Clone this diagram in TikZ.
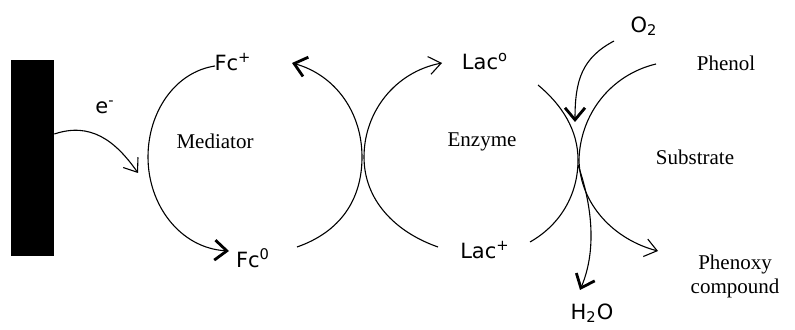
\documentclass[tikz,border=0pt]{standalone}
\usepackage{fontspec}
\setmainfont{Liberation Serif}
\setsansfont{DejaVu Sans}
\usetikzlibrary{arrows.meta}

\begin{document}
\begin{tikzpicture}[x=0.5pt,y=-0.5pt,
		species/.style={font=\sffamily\fontsize{10.5}{12}\selectfont,inner sep=1pt},
		caption/.style={font=\rmfamily\fontsize{10.5}{12}\selectfont,inner sep=1pt,align=center},
		cycle/.style={line width=0.55pt},
		thinhead/.style={-{Straight Barb[length=6pt,width=9pt]}},
		boldhead/.style={-{Straight Barb[length=6pt,width=10pt,line width=1.4pt]}}]
			
			\useasboundingbox (0,0) rectangle (795,330);
			% electrode
			\node[fill=black,minimum width=21.5pt,minimum height=98pt,inner sep=0pt] (elec) at (32.5,158) {};
			
			% species and captions
			\node[species] (emin) at (105,107) {e\textsuperscript{-}};
			\node[species] (fcplus) at (233,62) {Fc\textsuperscript{+}};
			\node[species] (fczero) at (253,258) {Fc\textsuperscript{0}};
			\node[species] (lacox) at (485,62) {Lac\textsuperscript{o}};
			\node[species] (lacred) at (485,250) {Lac\textsuperscript{+}};
			\node[species] (oxygen) at (644,26) {O\textsubscript{2}};
			\node[species] (water) at (592,313) {H\textsubscript{2}O};
			\node[caption] (mediator) at (215,141) {Mediator};
			\node[caption] (enzyme) at (482,142) {Enzyme};
			\node[caption] (substrate) at (695,157) {Substrate};
			\node[caption] (phenol) at (726,63) {Phenol};
			\node[caption] (phenoxy) at (735,276) {Phenoxy\\compound};
			
			% arc ends
			\coordinate (mA) at (215,66);  \coordinate (mB) at (229,251);
			\coordinate (mC) at (297,247); \coordinate (mD) at (292,63);
			\coordinate (eA) at (438,247); \coordinate (eB) at (442,63);
			\coordinate (eC) at (538,85);  \coordinate (eD) at (530,242);
			\coordinate (sA) at (656,64);  \coordinate (sB) at (658,251);
			\coordinate (oA) at (614,41);  \coordinate (oB) at (575,122);
			\coordinate (hA) at (578,165); \coordinate (hB) at (580,290);
			\coordinate (eIn) at (138,173);
			
			% electron transfer
			\draw[cycle,thinhead] ([yshift=12pt]elec.east) .. controls (90,122) and (115,140) .. (eIn);
			% mediator cycle
			\draw[cycle,boldhead] (mA) .. controls (175,72) and (148,112) .. (148,157) .. controls (148,205) and (180,248) .. (mB);
			\draw[cycle,boldhead] (mC) .. controls (340,232) and (362,200) .. (362,157) .. controls (362,112) and (335,75) .. (mD);
			% enzyme cycle
			\draw[cycle,thinhead] (eA) .. controls (395,232) and (364,200) .. (364,157) .. controls (364,112) and (395,72) .. (eB);
			\draw[cycle] (eC) .. controls (562,105) and (578,130) .. (578,160) .. controls (578,195) and (560,225) .. (eD);
			% substrate
			\draw[cycle,thinhead] (sA) .. controls (610,75) and (580,115) .. (579,160) .. controls (580,205) and (615,240) .. (sB);
			\draw[cycle,boldhead] (oA) .. controls (582,58) and (575,80) .. (oB);
			\draw[cycle,boldhead] (hA) .. controls (592,205) and (597,250) .. (hB);
			
		\end{tikzpicture}
\end{document}
